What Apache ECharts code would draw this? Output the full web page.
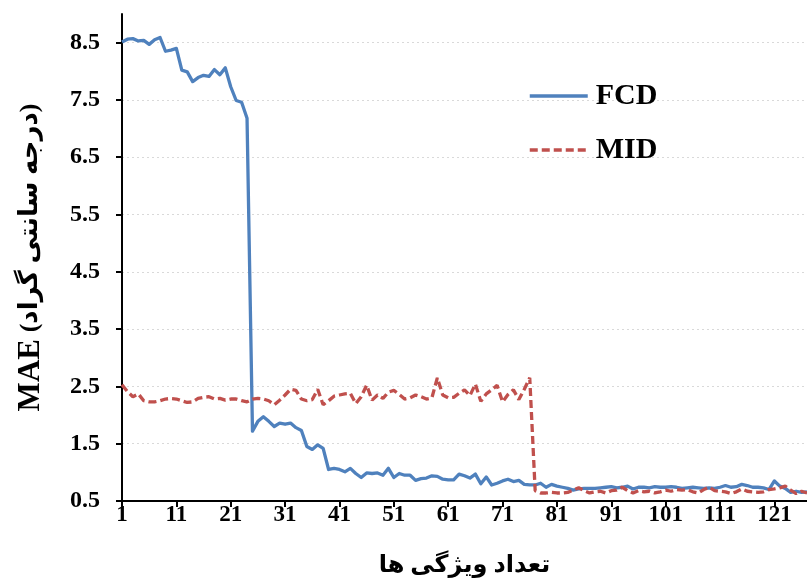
<!DOCTYPE html>
<html>
<head>
<meta charset="utf-8">
<script src="https://cdn.jsdelivr.net/npm/echarts@6/dist/echarts.min.js"></script>
<style>
  html, body { margin: 0; padding: 0; background: #fff; }
  #chart { width: 807px; height: 583px; }
</style>
</head>
<body>
<div id="chart"></div>
<script>
// Number of features (x categories 1..127)
const featureCounts = Array.from({ length: 127 }, (_, k) => String(k + 1));

// MAE of the FCD method
const fcdValues = [
  8.51, 8.56, 8.57, 8.53, 8.54, 8.47, 8.55, 8.59, 8.35, 8.37,
  8.40, 8.02, 7.99, 7.82, 7.89, 7.93, 7.91, 8.03, 7.94, 8.06,
  7.73, 7.49, 7.46, 7.18, 1.72, 1.89, 1.97, 1.89, 1.80, 1.86,
  1.84, 1.86, 1.78, 1.73, 1.45, 1.40, 1.48, 1.42, 1.05, 1.07,
  1.05, 1.01, 1.07, 0.98, 0.91, 0.99, 0.98, 0.99, 0.95, 1.07,
  0.91, 0.98, 0.95, 0.95, 0.86, 0.89, 0.90, 0.94, 0.93, 0.88,
  0.87, 0.87, 0.97, 0.94, 0.90, 0.97, 0.80, 0.92, 0.78, 0.81,
  0.85, 0.88, 0.84, 0.86, 0.79, 0.78, 0.78, 0.81, 0.74, 0.79,
  0.76, 0.74, 0.72, 0.69, 0.71, 0.72, 0.72, 0.72, 0.73, 0.74,
  0.75, 0.73, 0.74, 0.76, 0.71, 0.74, 0.74, 0.73, 0.75, 0.74,
  0.74, 0.75, 0.74, 0.72, 0.73, 0.74, 0.73, 0.72, 0.73, 0.72,
  0.74, 0.77, 0.74, 0.75, 0.79, 0.77, 0.74, 0.74, 0.73, 0.70,
  0.85, 0.76, 0.72, 0.65, 0.67, 0.65, 0.66
];

// MAE of the MID method
const midValues = [
  2.53, 2.41, 2.32, 2.37, 2.25, 2.23, 2.23, 2.25, 2.28, 2.29,
  2.28, 2.25, 2.22, 2.23, 2.29, 2.31, 2.32, 2.28, 2.29, 2.26,
  2.28, 2.28, 2.25, 2.23, 2.28, 2.29, 2.28, 2.25, 2.18, 2.26,
  2.35, 2.45, 2.43, 2.28, 2.25, 2.27, 2.45, 2.18, 2.25, 2.33,
  2.35, 2.37, 2.38, 2.20, 2.32, 2.52, 2.26, 2.35, 2.29, 2.40,
  2.43, 2.36, 2.28, 2.30, 2.35, 2.32, 2.28, 2.30, 2.65, 2.35,
  2.30, 2.31, 2.38, 2.44, 2.34, 2.54, 2.24, 2.37, 2.44, 2.52,
  2.23, 2.36, 2.44, 2.27, 2.45, 2.65, 0.68, 0.64, 0.64, 0.65,
  0.64, 0.64, 0.65, 0.69, 0.73, 0.68, 0.64, 0.66, 0.67, 0.64,
  0.68, 0.69, 0.74, 0.68, 0.64, 0.68, 0.66, 0.67, 0.64, 0.66,
  0.69, 0.67, 0.70, 0.69, 0.70, 0.66, 0.64, 0.70, 0.74, 0.68,
  0.67, 0.66, 0.63, 0.66, 0.71, 0.67, 0.66, 0.65, 0.66, 0.70,
  0.71, 0.73, 0.76, 0.69, 0.63, 0.67, 0.64
];

// Y axis tick values
const yTicks = [0.5, 1.5, 2.5, 3.5, 4.5, 5.5, 6.5, 7.5, 8.5];

const serifFont = "'Liberation Serif', 'Times New Roman', 'DejaVu Serif', 'DejaVu Sans', serif";

const chart = echarts.init(document.getElementById('chart'), null, { renderer: 'canvas' });

chart.setOption({
  animation: false,
  backgroundColor: '#ffffff',
  grid: { left: 122, right: 0, top: 14, bottom: 82, containLabel: false },
  legend: {
    data: ['FCD', 'MID'],
    orient: 'vertical',
    left: 523,
    top: 76,
    itemWidth: 58,
    itemHeight: 2,
    itemGap: 24,
    itemStyle: { opacity: 0 },
    lineStyle: { width: 3.5 },
    textStyle: {
      fontFamily: serifFont, fontWeight: 'bold', fontSize: 30, color: '#000',
      lineHeight: 30, padding: [0, 0, 0, 3]
    }
  },
  xAxis: {
    type: 'category',
    data: featureCounts,
    boundaryGap: false,
    name: 'تعداد ویژگی ها',
    nameLocation: 'middle',
    nameGap: 53,
    nameTextStyle: { fontFamily: serifFont, fontWeight: 'bold', fontSize: 24, color: '#000' },
    axisLine: { lineStyle: { color: '#000', width: 2 } },
    axisTick: { show: true, interval: 9, length: 6, lineStyle: { color: '#000', width: 2 } },
    axisLabel: {
      interval: 9,
      margin: 3,
      fontFamily: serifFont, fontWeight: 'bold', fontSize: 23, color: '#000'
    },
    splitLine: { show: false }
  },
  yAxis: {
    type: 'value',
    min: 0.5,
    max: 9,
    interval: 0.5,
    name: '{a|MAE} {b|(درجه سانتی گراد)}',
    nameLocation: 'middle',
    nameGap: 76,
    nameTextStyle: {
      fontFamily: serifFont, fontWeight: 'bold', fontSize: 27, color: '#000',
      rich: {
        a: { fontFamily: serifFont, fontWeight: 'bold', fontSize: 31, color: '#000' },
        b: { fontFamily: serifFont, fontWeight: 'bold', fontSize: 26, color: '#000' }
      }
    },
    axisLine: { show: true, lineStyle: { color: '#000', width: 2 } },
    axisTick: { show: true, customValues: yTicks, length: 6, lineStyle: { color: '#000', width: 2 } },
    axisLabel: {
      customValues: yTicks,
      margin: 22,
      formatter: v => v.toFixed(1),
      fontFamily: serifFont, fontWeight: 'bold', fontSize: 24, color: '#000'
    },
    splitLine: {
      show: true,
      customValues: yTicks,
      lineStyle: { color: '#d9d9d9', type: [2, 3], width: 1 }
    }
  },
  series: [
    {
      name: 'FCD',
      type: 'line',
      data: fcdValues,
      symbol: 'none',
      color: '#4f81bd',
      lineStyle: { color: '#4f81bd', width: 3.3, join: 'round' }
    },
    {
      name: 'MID',
      type: 'line',
      data: midValues,
      symbol: 'none',
      color: '#c0504d',
      lineStyle: { color: '#c0504d', width: 3.3, type: [8, 4] }
    }
  ]
});
</script>
</body>
</html>
